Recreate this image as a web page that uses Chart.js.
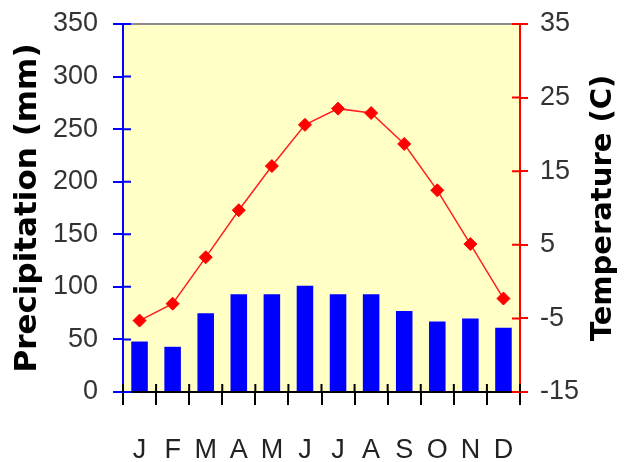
<!DOCTYPE html>
<html>
<head>
<meta charset="utf-8">
<script src="https://cdn.jsdelivr.net/npm/chart.js@4.4.1/dist/chart.umd.min.js"></script>
<style>
  html, body { margin: 0; padding: 0; background: #fff; }
  #wrap { width: 624px; height: 462px; }
</style>
</head>
<body>
<div id="wrap"><canvas id="climate"></canvas></div>
<script>
// Climate graph data
const months = ['J', 'F', 'M', 'A', 'M', 'J', 'J', 'A', 'S', 'O', 'N', 'D'];
const precipitation = [48, 43, 75, 93, 93, 101, 93, 93, 77, 67, 70, 61];
const temperature = [-5.3, -3, 3.3, 9.7, 15.7, 21.3, 23.5, 22.9, 18.7, 12.4, 5.1, -2.3];

const precipTicks = { min: 0, max: 350, step: 50 };
const tempTicks = { min: -15, max: 35, step: 10 };

const tickFont = "'Liberation Sans', Arial, sans-serif";
const titleFont = "'DejaVu Sans', sans-serif";

// yellow plot area, grey top edge, inward tick stubs, right-hand title
const plotFrame = {
  id: 'plotFrame',
  beforeDraw(chart) {
    const { ctx, chartArea: a } = chart;
    ctx.save();
    ctx.fillStyle = '#ffffc6';
    ctx.fillRect(a.left, a.top, a.right - a.left, a.bottom - a.top);
    ctx.restore();
  },
  afterDatasetsDraw(chart) {
    const { ctx, chartArea: a, scales } = chart;
    ctx.save();
    ctx.lineWidth = 2;

    ctx.strokeStyle = '#8c8c8c';
    ctx.beginPath();
    ctx.moveTo(a.left, a.top);
    ctx.lineTo(a.right, a.top);
    ctx.stroke();

    const stub = (scale, color, dir) => {
      ctx.strokeStyle = color;
      ctx.beginPath();
      scale.ticks.forEach((t, i) => {
        const y = scale.getPixelForTick(i);
        const x = dir > 0 ? a.left : a.right;
        ctx.moveTo(x, y);
        ctx.lineTo(x + dir * 8, y);
      });
      ctx.stroke();
    };
    stub(scales.y, '#0000ff', 1);
    stub(scales.y1, '#ff0000', -1);

    const xs = scales.x;
    const n = months.length;
    ctx.strokeStyle = '#000';
    ctx.beginPath();
    for (let i = 0; i <= n; i++) {
      const x = xs.left + i * (xs.width / n);
      ctx.moveTo(x, a.bottom);
      ctx.lineTo(x, a.bottom - 8);
    }
    ctx.stroke();

    const r = scales.y1;
    ctx.translate(r.right - 21, (r.top + r.bottom) / 2);
    ctx.rotate(-Math.PI / 2);
    ctx.fillStyle = '#000';
    ctx.font = "bold 29px " + titleFont;
    ctx.textAlign = 'center';
    ctx.textBaseline = 'middle';
    ctx.fillText('Temperature (C)', 0, 0);
    ctx.restore();
  }
};

const noPad = (w) => (s) => {
  s.width = w;
  s.paddingTop = 0;
  s.paddingBottom = 0;
};

new Chart(document.getElementById('climate'), {
  type: 'bar',
  data: {
    labels: months,
    datasets: [
      {
        type: 'line',
        label: 'Temperature',
        data: temperature,
        yAxisID: 'y1',
        borderColor: '#ff2020',
        borderWidth: 1.5,
        pointStyle: 'rectRot',
        pointRadius: 6.5,
        pointBackgroundColor: '#ff0000',
        pointBorderColor: '#ff0000',
        pointBorderWidth: 1,
        tension: 0,
        order: 0
      },
      {
        label: 'Precipitation',
        data: precipitation,
        yAxisID: 'y',
        backgroundColor: '#0000ff',
        barPercentage: 0.5,
        categoryPercentage: 1,
        order: 1
      }
    ]
  },
  options: {
    responsive: true,
    maintainAspectRatio: false,
    animation: false,
    layout: { padding: { top: 24 } },
    plugins: {
      legend: { display: false },
      tooltip: { enabled: false }
    },
    scales: {
      x: {
        offset: true,
        grid: { offset: true, drawOnChartArea: false, tickLength: 13, color: '#000', lineWidth: 2 },
        border: { color: '#000', width: 2 },
        ticks: { font: { family: tickFont, size: 27 }, color: '#222', padding: 29 },
        afterFit: (s) => { s.height = 70; }
      },
      y: {
        position: 'left',
        min: precipTicks.min,
        max: precipTicks.max,
        ticks: { stepSize: precipTicks.step, font: { family: tickFont, size: 27 }, color: '#333', padding: 15 },
        grid: { drawOnChartArea: false, tickLength: 10, color: '#0000ff', lineWidth: 2 },
        border: { color: '#0000ff', width: 2 },
        title: {
          display: true,
          text: 'Precipitation (mm)',
          color: '#000',
          font: { family: titleFont, size: 31, weight: 'bold' },
          padding: { top: 9, bottom: 0 }
        },
        afterFit: noPad(123)
      },
      y1: {
        position: 'right',
        min: tempTicks.min,
        max: tempTicks.max,
        ticks: { stepSize: tempTicks.step, font: { family: tickFont, size: 27 }, color: '#333', padding: 12 },
        grid: { drawOnChartArea: false, tickLength: 8, color: '#ff0000', lineWidth: 2 },
        border: { color: '#ff0000', width: 2 },
        afterFit: noPad(104)
      }
    }
  },
  plugins: [plotFrame]
});
</script>
</body>
</html>
